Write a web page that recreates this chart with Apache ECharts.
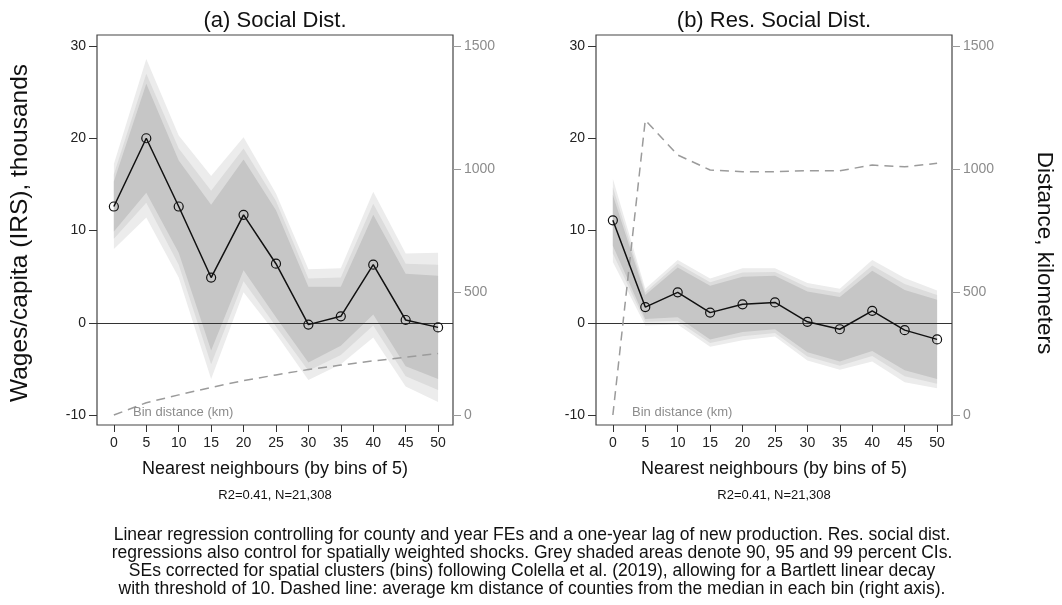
<!DOCTYPE html>
<html>
<head>
<meta charset="utf-8">
<script src="https://cdn.jsdelivr.net/npm/echarts@6/dist/echarts.min.js"></script>
<style>
  html, body { margin: 0; padding: 0; background: #fff; }
  #chart { width: 1062px; height: 605px; }
</style>
</head>
<body>
<div id="chart"></div>
<script>
// Bins of nearest neighbours (x axis) and tick values
const bins = [0, 5, 10, 15, 20, 25, 30, 35, 40, 45, 50];
const yTicks = [-10, 0, 10, 20, 30];
const kmTicks = [0, 500, 1000, 1500];

// (a) Social Dist.: point estimates, CI half-widths (90/95/99) and bin distance in km
const estA  = [12.6, 20.0, 12.6, 4.9, 11.7, 6.4, -0.2, 0.7, 6.3, 0.3, -0.5];
const ci90A = [2.7, 5.9, 5.0, 7.9, 6.0, 5.8, 4.1, 3.2, 5.4, 5.0, 5.6];
const ci95A = [3.5, 7.0, 6.3, 9.4, 7.2, 6.8, 5.0, 4.2, 6.6, 6.1, 6.8];
const ci99A = [4.6, 8.6, 7.7, 11.0, 8.4, 7.6, 6.0, 5.2, 7.9, 7.2, 8.1];
const kmA   = [0, 50, 82, 112, 140, 163, 185, 203, 220, 235, 250];

// (b) Res. Social Dist.
const estB  = [11.1, 1.7, 3.3, 1.1, 2.0, 2.2, 0.1, -0.7, 1.3, -0.8, -1.8];
const ci90B = [2.75, 1.3, 2.7, 2.9, 3.0, 2.9, 3.3, 3.5, 4.35, 4.35, 4.3];
const ci95B = [3.6, 1.6, 3.1, 3.3, 3.45, 3.3, 3.75, 3.95, 4.9, 5.0, 4.8];
const ci99B = [4.5, 2.0, 3.5, 3.7, 3.9, 3.7, 4.2, 4.4, 5.5, 5.65, 5.3];
const kmB   = [0, 1199, 1057, 996, 989, 989, 993, 993, 1016, 1009, 1023];

const panels = [
  { title: '(a) Social Dist.', est: estA, ci: [ci99A, ci95A, ci90A], km: kmA, left: 97 },
  { title: '(b) Res. Social Dist.', est: estB, ci: [ci99B, ci95B, ci90B], km: kmB, left: 596 }
];

const FONT = '"Liberation Sans", Arial, Helvetica, sans-serif';
const BAND_COLORS = ['#ececec', '#dcdcdc', '#c6c6c6'];   // 99, 95, 90 percent
const X_MIN = -2.6, X_MAX = 52.3;
const Y_MIN = -11.08, Y_MAX = 31.19;
// right axis: 0 km sits level with -10, 1500 km level with 30
const KM_PER_UNIT = 1500 / 40;
const KM_MIN = (Y_MIN + 10) * KM_PER_UNIT;
const KM_MAX = (Y_MAX + 10) * KM_PER_UNIT;
const PLOT_W = 356, PLOT_H = 390, PLOT_TOP = 35;

// one filled polygon per band, built from all rows of the series
function bandRenderer(color) {
  return function (params, api) {
    if (params.dataIndexInside !== 0) return null;
    const n = params.dataInsideLength;
    const top = [], bottom = [];
    for (let i = 0; i < n; i++) {
      top.push(api.coord([api.value(0, i), api.value(2, i)]));
      bottom.push(api.coord([api.value(0, i), api.value(1, i)]));
    }
    return {
      type: 'polygon',
      shape: { points: top.concat(bottom.reverse()) },
      style: { fill: color }
    };
  };
}

const plain = v => String(v);
const grid = [], xAxis = [], yAxis = [], series = [], texts = [];

panels.forEach((p, i) => {
  grid.push({
    left: p.left, top: PLOT_TOP, width: PLOT_W, height: PLOT_H,
    show: true, borderColor: '#444', borderWidth: 1.2, backgroundColor: 'transparent'
  });
  xAxis.push({
    gridIndex: i, type: 'value', min: X_MIN, max: X_MAX, position: 'bottom',
    axisLine: { show: false, onZero: false }, splitLine: { show: false },
    axisTick: { show: true, customValues: bins, length: 7, lineStyle: { color: '#333', width: 1 } },
    axisLabel: { customValues: bins, margin: 11, fontSize: 14, color: '#222', fontFamily: FONT, formatter: plain }
  });
  yAxis.push({
    gridIndex: i, type: 'value', position: 'left', min: Y_MIN, max: Y_MAX,
    axisLine: { show: false, onZero: false }, splitLine: { show: false },
    axisTick: { show: true, customValues: yTicks, length: 8, lineStyle: { color: '#333', width: 1 } },
    axisLabel: { customValues: yTicks, margin: 11, fontSize: 14, color: '#222', fontFamily: FONT, formatter: plain }
  });
  yAxis.push({
    gridIndex: i, type: 'value', position: 'right', min: KM_MIN, max: KM_MAX,
    axisLine: { show: false, onZero: false }, splitLine: { show: false },
    axisTick: { show: true, customValues: kmTicks, length: 8, lineStyle: { color: '#999', width: 1 } },
    axisLabel: { customValues: kmTicks, margin: 11, fontSize: 14, color: '#8c8c8c', fontFamily: FONT, formatter: plain }
  });

  p.ci.forEach((hw, lvl) => {
    series.push({
      type: 'custom', xAxisIndex: i, yAxisIndex: 2 * i,
      data: bins.map((x, k) => [x, p.est[k] - hw[k], p.est[k] + hw[k]]),
      encode: { x: 0, y: [1, 2] },
      renderItem: bandRenderer(BAND_COLORS[lvl]),
      silent: true, z: 1 + lvl
    });
  });

  series.push({
    type: 'line', xAxisIndex: i, yAxisIndex: 2 * i + 1,
    data: bins.map((x, k) => [x, p.km[k]]),
    symbol: 'none', silent: true, z: 6,
    lineStyle: { color: '#9b9b9b', width: 1.5, type: [9, 6] }
  });

  series.push({
    type: 'line', xAxisIndex: i, yAxisIndex: 2 * i,
    data: bins.map((x, k) => [x, p.est[k]]),
    symbol: 'circle', symbolSize: 9, silent: true, z: 8,
    itemStyle: { color: 'rgba(0,0,0,0)', borderColor: '#111', borderWidth: 1.2 },
    lineStyle: { color: '#111', width: 1.5 },
    markLine: {
      silent: true, symbol: 'none', label: { show: false },
      lineStyle: { color: '#333', width: 1.2, type: 'solid' },
      data: [{ yAxis: 0 }]
    }
  });

  const cx = p.left + PLOT_W / 2;
  texts.push(
    { type: 'text', x: cx, y: 21, style: { text: p.title, font: '22px ' + FONT, fill: '#111', textAlign: 'center', textVerticalAlign: 'middle' } },
    { type: 'text', x: cx, y: 469, style: { text: 'Nearest neighbours (by bins of 5)', font: '18px ' + FONT, fill: '#111', textAlign: 'center', textVerticalAlign: 'middle' } },
    { type: 'text', x: cx, y: 495, style: { text: 'R2=0.41, N=21,308', font: '13px ' + FONT, fill: '#111', textAlign: 'center', textVerticalAlign: 'middle' } },
    { type: 'text', x: p.left + 36, y: 412, style: { text: 'Bin distance (km)', font: '13px ' + FONT, fill: '#8c8c8c', textAlign: 'left', textVerticalAlign: 'middle' }, z: 10 }
  );
});

const note = [
  'Linear regression controlling for county and year FEs and a one-year lag of new production. Res. social dist.',
  'regressions also control for spatially weighted shocks. Grey shaded areas denote 90, 95 and 99 percent CIs.',
  'SEs corrected for spatial clusters (bins) following Colella et al. (2019), allowing for a Bartlett linear decay',
  'with threshold of 10. Dashed line: average km distance of counties from the median in each bin (right axis).'
];
note.forEach((line, j) => {
  texts.push({ type: 'text', x: 532, y: 535 + j * 18, style: { text: line, font: '17.5px ' + FONT, fill: '#111', textAlign: 'center', textVerticalAlign: 'middle' } });
});

texts.push(
  { type: 'text', x: 20, y: 233, rotation: Math.PI / 2, style: { text: 'Wages/capita (IRS), thousands', font: '24.5px ' + FONT, fill: '#111', textAlign: 'center', textVerticalAlign: 'middle' } },
  { type: 'text', x: 1044, y: 253, rotation: -Math.PI / 2, style: { text: 'Distance, kilometers', font: '22.5px ' + FONT, fill: '#111', textAlign: 'center', textVerticalAlign: 'middle' } }
);

const chart = echarts.init(document.getElementById('chart'), null, { renderer: 'canvas' });
chart.setOption({
  animation: false,
  backgroundColor: '#fff',
  grid, xAxis, yAxis, series,
  graphic: { elements: texts }
});
</script>
</body>
</html>
